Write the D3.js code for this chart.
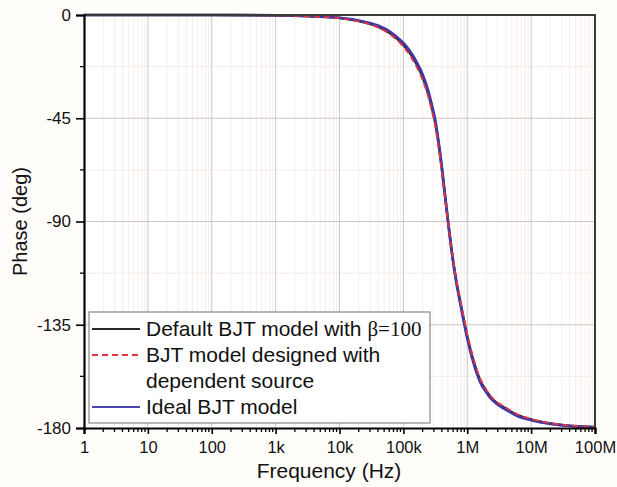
<!DOCTYPE html>
<html>
<head>
<meta charset="utf-8">
<script src="https://cdn.jsdelivr.net/npm/d3@7"></script>
<style>
    body { margin: 0; background: #fffdfa; }
    svg { display: block; font-family: "Liberation Sans", Arial, sans-serif; }
</style>
</head>
<body>
<div id="chart"></div>
<script>
// data
var freqs = [1, 10, 100, 1e3, 3.16e3, 1e4, 2e4, 4e4, 6.3e4, 1e5, 1.26e5, 1.58e5, 2e5, 2.5e5, 2.8e5, 3.16e5, 3.55e5, 4e5, 4.47e5, 5e5, 5.6e5, 6.3e5, 7.9e5, 1e6, 1.26e6, 1.58e6, 2e6, 2.5e6, 4e6, 6.3e6, 1e7, 2e7, 4e7, 1e8];
var phaseDefault = [0, 0, -0.02, -0.15, -0.5, -1.3, -2.6, -5, -8, -13, -16.5, -21, -27, -35, -40.5, -47, -56, -67, -78.5, -90, -101, -111, -126, -140, -151, -159, -164, -167.5, -171.5, -174.5, -176.3, -178, -179, -179.6];
var phaseDependent = [0, 0, -0.02, -0.16, -0.55, -1.4, -2.8, -5.4, -8.6, -13.8, -17.5, -22.2, -28.3, -36.5, -42, -48.5, -57.5, -68.5, -79.5, -90.5, -101, -110.5, -125, -139, -150, -158.2, -163.4, -167, -171, -174.2, -176.1, -177.9, -178.9, -179.6];
var phaseIdeal = [0, 0, -0.01, -0.12, -0.45, -1.2, -2.4, -4.6, -7.4, -12.2, -15.6, -20, -25.8, -33.8, -39.3, -45.8, -55, -66, -78, -89.8, -101.2, -111.5, -126.8, -141, -152, -159.8, -164.6, -168, -172, -175, -176.6, -178.2, -179.1, -179.7];

var xTicks = [1, 10, 100, 1e3, 1e4, 1e5, 1e6, 1e7, 1e8];
var xTickLabels = ["1", "10", "100", "1k", "10k", "100k", "1M", "10M", "100M"];
var yTicks = [0, -45, -90, -135, -180];
var yMinorTicks = [-22.5, -67.5, -112.5, -157.5];

const width = 617, height = 487;
const plotL = 84, plotR = 595, plotT = 15, plotB = 428;

const svg = d3.select("#chart").append("svg")
    .attr("width", width)
    .attr("height", height);

const x = d3.scaleLog().domain([1, 1e8]).range([plotL, plotR]);
const y = d3.scaleLinear().domain([-180, 0]).range([plotB, plotT]);

// plot background
svg.append("rect")
    .attr("x", plotL).attr("y", plotT)
    .attr("width", plotR - plotL).attr("height", plotB - plotT)
    .attr("fill", "#ffffff");

// minor grid (2..9 in each decade)
var minorX = [];
for (var d = 0; d < 8; d++) {
    for (var m = 2; m <= 9; m++) minorX.push(m * Math.pow(10, d));
}
svg.append("g").selectAll("line")
    .data(minorX).enter().append("line")
    .attr("x1", d => x(d)).attr("x2", d => x(d))
    .attr("y1", plotT).attr("y2", plotB)
    .attr("stroke", "#f7eee9").attr("stroke-width", 1);

svg.append("g").selectAll("line")
    .data(yMinorTicks).enter().append("line")
    .attr("x1", plotL).attr("x2", plotR)
    .attr("y1", d => y(d)).attr("y2", d => y(d))
    .attr("stroke", "#f4ebe6").attr("stroke-width", 1);

// major grid
svg.append("g").selectAll("line")
    .data(xTicks.slice(1, -1)).enter().append("line")
    .attr("x1", d => x(d)).attr("x2", d => x(d))
    .attr("y1", plotT).attr("y2", plotB)
    .attr("stroke", "#cdc6c2").attr("stroke-width", 1);

svg.append("g").selectAll("line")
    .data(yTicks.slice(1, -1)).enter().append("line")
    .attr("x1", plotL).attr("x2", plotR)
    .attr("y1", d => y(d)).attr("y2", d => y(d))
    .attr("stroke", "#cdc6c2").attr("stroke-width", 1);

// curves
svg.append("clipPath").attr("id", "clip")
    .append("rect")
    .attr("x", plotL).attr("y", plotT - 3)
    .attr("width", plotR - plotL).attr("height", plotB - plotT + 6);

const lineGen = d3.line()
    .x(d => x(d[0]))
    .y(d => y(d[1]))
    .curve(d3.curveMonotoneX);

const curves = svg.append("g").attr("clip-path", "url(#clip)");

curves.append("path")
    .attr("d", lineGen(d3.zip(freqs, phaseDefault)))
    .attr("fill", "none").attr("stroke", "#2a2a2a").attr("stroke-width", 2.6);

curves.append("path")
    .attr("d", lineGen(d3.zip(freqs, phaseIdeal)))
    .attr("fill", "none").attr("stroke", "#4038a8").attr("stroke-width", 2.6);

curves.append("path")
    .attr("d", lineGen(d3.zip(freqs, phaseDependent)))
    .attr("fill", "none").attr("stroke", "#e8323f").attr("stroke-width", 1.8)
    .attr("stroke-dasharray", "6,4");

// top and right frame
svg.append("path")
    .attr("d", `M${plotL},${plotT}H${plotR}V${plotB}`)
    .attr("fill", "none").attr("stroke", "#3a3a3a").attr("stroke-width", 2);

// x axis
const xAxis = d3.axisBottom(x)
    .tickValues(xTicks)
    .tickFormat((d, i) => xTickLabels[i])
    .tickSize(6)
    .tickPadding(7);
const gx = svg.append("g")
    .attr("transform", `translate(0,${plotB})`)
    .call(xAxis);
gx.select(".domain").attr("stroke", "#000").attr("stroke-width", 2.2);
gx.selectAll(".tick line").attr("stroke-width", 1.6);
gx.selectAll(".tick text").attr("font-size", 16.5).attr("fill", "#111");

gx.append("g").selectAll("line")
    .data(minorX).enter().append("line")
    .attr("x1", d => x(d)).attr("x2", d => x(d))
    .attr("y1", 0).attr("y2", 4)
    .attr("stroke", "#000").attr("stroke-width", 1.3);

// y axis
const yAxis = d3.axisLeft(y)
    .tickValues(yTicks)
    .tickFormat(d => String(d))
    .tickSize(8)
    .tickPadding(5);
const gy = svg.append("g")
    .attr("transform", `translate(${plotL},0)`)
    .call(yAxis);
gy.select(".domain").attr("stroke", "#000").attr("stroke-width", 2.2);
gy.selectAll(".tick line").attr("stroke-width", 1.6);
gy.selectAll(".tick text").attr("font-size", 17).attr("fill", "#111");

gy.append("g").selectAll("line")
    .data(yMinorTicks).enter().append("line")
    .attr("x1", -4).attr("x2", 0)
    .attr("y1", d => y(d)).attr("y2", d => y(d))
    .attr("stroke", "#000").attr("stroke-width", 1.3);

// axis titles
svg.append("text")
    .attr("x", 329).attr("y", 478)
    .attr("text-anchor", "middle")
    .attr("font-size", 21).attr("fill", "#111")
    .text("Frequency (Hz)");

svg.append("text")
    .attr("transform", `translate(27,${(plotT + plotB) / 2}) rotate(-90)`)
    .attr("text-anchor", "middle")
    .attr("font-size", 20).attr("fill", "#111")
    .text("Phase (deg)");

// legend
const legend = svg.append("g");
legend.append("rect")
    .attr("x", 89).attr("y", 312)
    .attr("width", 341).attr("height", 111)
    .attr("fill", "#ffffff").attr("stroke", "#8a8580").attr("stroke-width", 1.2);

var legendItems = [
    {lines: ["Default BJT model with "], beta: true, color: "#2a2a2a", dash: null, y: 329},
    {lines: ["BJT model designed with", "dependent source"], color: "#e8323f", dash: "6,4", y: 355},
    {lines: ["Ideal BJT model"], color: "#4a44aa", dash: null, y: 407}
];

legendItems.forEach(function(item) {
    legend.append("line")
        .attr("x1", 92).attr("x2", 140)
        .attr("y1", item.y).attr("y2", item.y)
        .attr("stroke", item.color).attr("stroke-width", 2)
        .attr("stroke-dasharray", item.dash);
    item.lines.forEach(function(txt, i) {
        var t = legend.append("text")
            .attr("x", 146).attr("y", item.y + 7 + i * 26)
            .attr("font-size", 21).attr("fill", "#111")
            .text(txt);
        if (item.beta && i == 0) {
            t.append("tspan")
                .attr("font-family", "'Liberation Serif', 'Times New Roman', serif")
                .text("β=100");
        }
    });
});
</script>
</body>
</html>
